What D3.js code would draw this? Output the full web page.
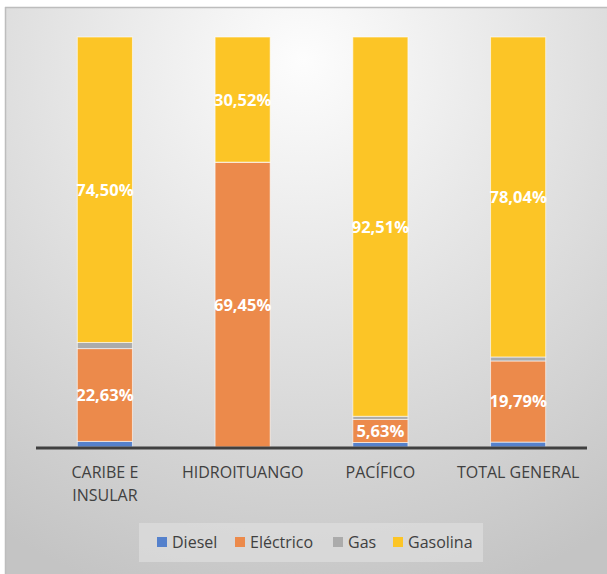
<!DOCTYPE html>
<html><head><meta charset="utf-8">
<script src="https://cdn.jsdelivr.net/npm/d3@7"></script>
<style>html,body{margin:0;padding:0;background:#fff;}svg{display:block;}</style>
</head><body>
<script>
const categories = [["CARIBE E","INSULAR"],["HIDROITUANGO"],["PACÍFICO"],["TOTAL GENERAL"]];
const seriesNames = ["Diesel","Eléctrico","Gas","Gasolina"];
const diesel    = [1.37, 0.00, 1.10, 1.20];
const electrico = [22.63, 69.45, 5.63, 19.79];
const gas       = [1.50, 0.03, 0.76, 0.97];
const gasolina  = [74.50, 30.52, 92.51, 78.04];
const colors = ["#5581CC","#EC8A4B","#ABABAB","#FCC526"];

const W = 607, H = 574;
const FONT = "'Open Sans', sans-serif";
const svg = d3.select("body").append("svg").attr("width", W).attr("height", H)
  .style("font-family", FONT);

const defs = svg.append("defs");
const rg = defs.append("radialGradient").attr("id","bg")
  .attr("gradientUnits","userSpaceOnUse").attr("cx",303).attr("cy",60).attr("r",560);
rg.append("stop").attr("offset","0").attr("stop-color","#fdfdfd");
rg.append("stop").attr("offset","1").attr("stop-color","#c4c4c4");

svg.append("rect").attr("x",5).attr("y",7).attr("width",W).attr("height",H).attr("fill","url(#bg)");
svg.append("line").attr("x1",5).attr("x2",W).attr("y1",7.5).attr("y2",7.5).attr("stroke","#bdbdbd").attr("stroke-width",1.5);
svg.append("line").attr("x1",5.5).attr("x2",5.5).attr("y1",7).attr("y2",H).attr("stroke","#bdbdbd").attr("stroke-width",1.5);

const keys = categories.map(c => c.join(" "));
const x = d3.scaleBand().domain(keys).range([36, 587]).paddingInner(0.6).paddingOuter(0.3);
const y = d3.scaleLinear().domain([0, 100]).range([447, 37]);

const rows = keys.map((k, i) => ({key: k, Diesel: diesel[i], "Eléctrico": electrico[i], Gas: gas[i], Gasolina: gasolina[i]}));
const stack = d3.stack().keys(seriesNames)(rows);

const g = svg.append("g");
stack.forEach((s, si) => {
  g.selectAll(null).data(s).enter().append("rect")
    .attr("x", d => x(d.data.key))
    .attr("width", x.bandwidth())
    .attr("y", d => y(d[1]))
    .attr("height", d => Math.max(0, y(d[0]) - y(d[1])))
    .attr("fill", colors[si])
    .attr("stroke", d => (d[1]-d[0]) > 0.01 ? "rgba(255,255,255,0.6)" : "none")
    .attr("stroke-width", 1);
});

// labels
stack.forEach((s, si) => {
  if (si !== 1 && si !== 3) return;
  g.selectAll(null).data(s).enter().append("text")
    .attr("x", d => x(d.data.key) + x.bandwidth()/2)
    .attr("y", d => (y(d[0]) + y(d[1]))/2)
    .attr("dy","0.36em")
    .attr("text-anchor","middle")
    .attr("fill","#fff")
    .attr("font-size",16.5)
    .attr("font-weight",700)
    .text(d => (d[1]-d[0]).toFixed(2).replace(".", ",") + "%");
});

// axis
const xAxis = d3.axisBottom(x).tickSize(0).tickFormat("");
const ax = svg.append("g").attr("transform","translate(0,448)").call(xAxis)
  .attr("font-family", FONT);
ax.select(".domain").attr("stroke","#404040").attr("stroke-width",3).attr("d","M36,0H587");
ax.selectAll(".tick").each(function(d, i) {
  const t = d3.select(this).append("text").attr("fill","#404040").attr("font-size",16)
    .attr("font-family", FONT)
    .attr("text-anchor","middle").attr("y", 30);
  categories[i].forEach((line, li) => {
    t.append("tspan").attr("x",0).attr("dy", li === 0 ? 0 : 23).text(line);
  });
});

// legend
const lg = svg.append("g");
lg.append("rect").attr("x",139).attr("y",523).attr("width",344).attr("height",39).attr("fill","#dcdcdc").attr("opacity",0.75);
const legX = [157, 235, 333, 393];
seriesNames.forEach((n, i) => {
  lg.append("rect").attr("x",legX[i]).attr("y",537).attr("width",10).attr("height",10).attr("fill",colors[i]);
  lg.append("text").attr("x",legX[i]+15).attr("y",548).attr("fill","#404040").attr("font-size",16).text(n);
});
</script>
</body></html>
